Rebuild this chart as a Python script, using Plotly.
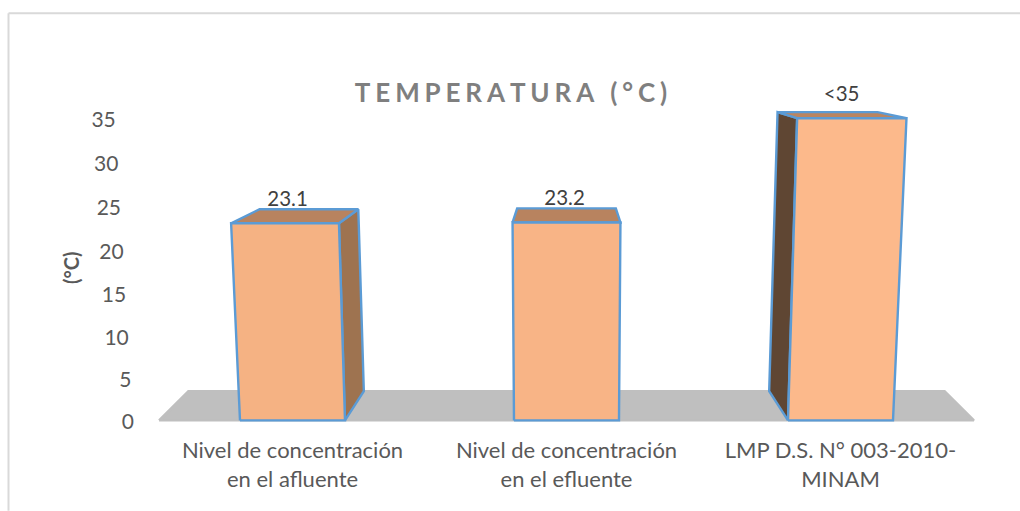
import plotly.graph_objects as go

# ---- data ----
categories = ["Nivel de concentración<br>en el afluente",
              "Nivel de concentración<br>en el efluente",
              "LMP D.S. N° 003-2010-<br>MINAM"]
values = [23.1, 23.2, 35]
value_labels = ["23.1", "23.2", "<35"]
y_ticks = [0, 5, 10, 15, 20, 25, 30, 35]
title_text = "TEMPERATURA (°C)"
y_title = "(°C)"

# ---- style / layout ----
W, H = 1020, 511
L, R = 60.0, 1000.0          # plot area in pixels
CAT0, CAT_W = 292.5, 274.0   # pixel of category 0, pixels per category
Y0, PX_PER_UNIT = 420.5, 8.643
Y_MIN, Y_MAX = -1, 40
PLOT_TOP = Y0 - Y_MAX * PX_PER_UNIT
PLOT_BOTTOM = Y0 - Y_MIN * PX_PER_UNIT
FONT = "Lato"
EDGE = "#5B9BD5"
FRONT = ["#F5B283", "#F8B486", "#FCB98B"]
TOP = ["#B8835F", "#B8835F", "#BB8560"]
SIDE = ["#9E7350", None, "#5F4633"]
FLOOR = "#BFBFBF"
HALF = 0.1916        # half width of a bar, in category units
GROW = 0.00118       # widening with height (perspective)
BACK_K = 0.915       # shrink of the back face
BACK_DY = 3.37       # height of back face base, in value units
BACK_VK = 0.924
FLOOR_HALF, FLOOR_BACK_K = 1.487, 0.928


def warp(v):
    """Slight vertical perspective of the 3-D chart."""
    return v * (0.965 + 0.000995 * v)


def front(x, v):
    return 1 + (x - 1) * (1 + GROW * v), warp(v)


def back(x, v):
    fx, _ = front(x, v)
    return 1 + (fx - 1) * BACK_K, BACK_DY + BACK_VK * warp(v)


def poly(points, fill, line=EDGE):
    xs = [p[0] for p in points] + [points[0][0]]
    ys = [p[1] for p in points] + [points[0][1]]
    return go.Scatter(x=xs, y=ys, mode="lines", fill="toself", fillcolor=fill,
                      line=dict(color=line if line else fill, width=2.4, simplify=False),
                      hoverinfo="skip", showlegend=False, cliponaxis=False)


fig = go.Figure()

# floor
fig.add_trace(poly([(1 - FLOOR_HALF, 0), (1 + FLOOR_HALF, 0),
                    (1 + FLOOR_HALF * FLOOR_BACK_K, BACK_DY),
                    (1 - FLOOR_HALF * FLOOR_BACK_K, BACK_DY)], FLOOR, line=FLOOR))

# bars
for i, v in enumerate(values):
    xl, xr = i - HALF, i + HALF
    if SIDE[i]:
        xs = xr if i < 1 else xl
        fig.add_trace(poly([front(xs, 0), front(xs, v), back(xs, v), back(xs, 0)], SIDE[i]))
    fig.add_trace(poly([front(xl, v), front(xr, v), back(xr, v), back(xl, v)], TOP[i]))
    fig.add_trace(poly([front(xl, 0), front(xr, 0), front(xr, v), front(xl, v)], FRONT[i]))

# data labels
fig.add_trace(go.Scatter(
    x=[1 + (i - 1) * 1.011 - 0.007 for i in range(len(values))],
    y=[warp(v) + 2.6 for v in values],
    mode="text", text=value_labels, textposition="middle center",
    textfont=dict(family=FONT, size=20.5, color="#404040"),
    hoverinfo="skip", showlegend=False, cliponaxis=False))

# value-axis labels, slanted with the perspective of the 3-D wall
fig.add_trace(go.Scatter(
    x=[(134 - 0.52 * t - CAT0) / CAT_W for t in y_ticks],
    y=[warp(t) - 0.4 for t in y_ticks],
    mode="text", text=[str(t) for t in y_ticks], textposition="middle left",
    textfont=dict(family=FONT, size=21, color="#595959"),
    hoverinfo="skip", showlegend=False, cliponaxis=False))


def paper_x(x):
    return (x - L) / (R - L)


def paper_y(y):
    return (PLOT_BOTTOM - y) / (PLOT_BOTTOM - PLOT_TOP)


fig.update_layout(
    width=W, height=H, autosize=False,
    margin=dict(l=L, r=W - R, t=PLOT_TOP, b=H - PLOT_BOTTOM, pad=0),
    paper_bgcolor="white", plot_bgcolor="rgba(0,0,0,0)",
    showlegend=False,
    title=dict(text="\u2009\u200a".join(title_text).replace("\u2009\u200a \u2009\u200a", "\u2009\u2009 \u2009"),
               x=511 / W, xanchor="center", xref="container",
               y=1 - 93 / H, yanchor="middle", yref="container",
               font=dict(family=FONT, size=26, color="#7F7F7F", weight="bold")),
    xaxis=dict(range=[(L - CAT0) / CAT_W, (R - CAT0) / CAT_W],
               tickmode="array", tickvals=[0, 1, 2], ticktext=categories,
               showgrid=False, zeroline=False, showline=False, ticks="",
               ticklabelstandoff=6,
               tickfont=dict(family=FONT, size=22, color="#595959")),
    yaxis=dict(range=[Y_MIN, Y_MAX], showgrid=False, zeroline=False, showline=False,
               ticks="", showticklabels=False),
    annotations=[dict(text=y_title, xref="paper", yref="paper", showarrow=False,
                      x=paper_x(71), y=paper_y(268),
                      xanchor="center", yanchor="middle", textangle=-90,
                      font=dict(family=FONT, size=20, color="#595959", weight="bold"))],
    shapes=[
        dict(type="line", xref="paper", yref="paper", layer="below",
             x0=paper_x(8.5), x1=paper_x(8.5), y0=paper_y(13), y1=paper_y(H),
             line=dict(color="#D9D9D9", width=2)),
        dict(type="line", xref="paper", yref="paper", layer="below",
             x0=paper_x(8.5), x1=paper_x(W), y0=paper_y(13), y1=paper_y(13),
             line=dict(color="#D9D9D9", width=2)),
    ],
)

fig.write_html("out.html", post_script="document.body.style.margin='0';",
               config={"displayModeBar": False})
